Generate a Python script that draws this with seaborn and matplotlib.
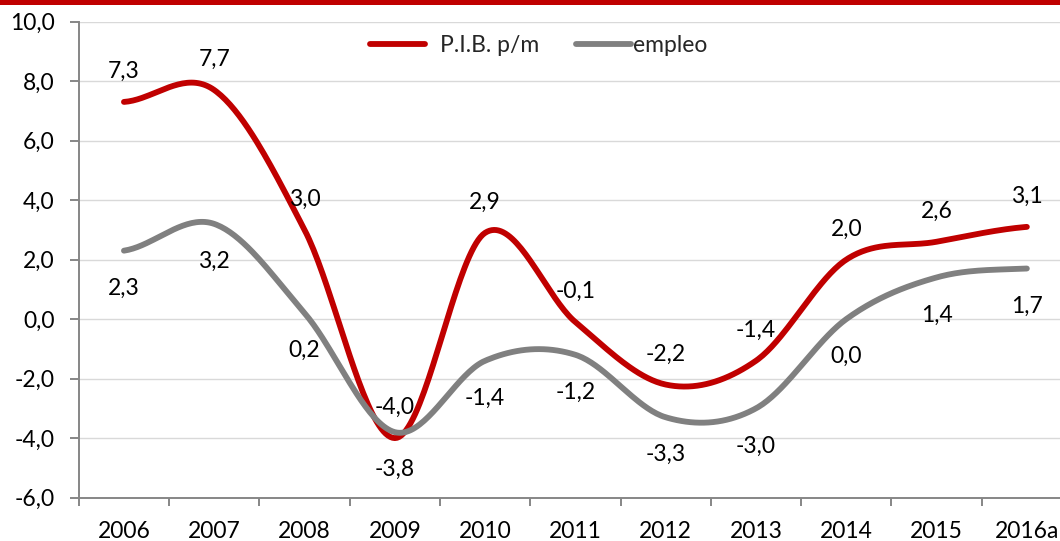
import numpy as np
import pandas as pd
import seaborn as sns
import matplotlib
matplotlib.use("Agg")
import matplotlib.pyplot as plt
from matplotlib.patches import Rectangle
from matplotlib.lines import Line2D

years = ["2006", "2007", "2008", "2009", "2010", "2011", "2012", "2013", "2014", "2015", "2016a"]
pib = [7.3, 7.7, 3.0, -4.0, 2.9, -0.1, -2.2, -1.4, 2.0, 2.6, 3.1]
empleo = [2.3, 3.2, 0.2, -3.8, -1.4, -1.2, -3.3, -3.0, 0.0, 1.4, 1.7]
pib_labels = ["7,3", "7,7", "3,0", "-4,0", "2,9", "-0,1", "-2,2", "-1,4", "2,0", "2,6", "3,1"]
empleo_labels = ["2,3", "3,2", "0,2", "-3,8", "-1,4", "-1,2", "-3,3", "-3,0", "0,0", "1,4", "1,7"]
yticks = [-6, -4, -2, 0, 2, 4, 6, 8, 10]
ytick_labels = ["-6,0", "-4,0", "-2,0", "0,0", "2,0", "4,0", "6,0", "8,0", "10,0"]

RED = "#C00000"
GRAY = "#808080"


def smooth(vals, n=40):
    """Catmull-Rom rendering of the series (like Excel's smoothed line)."""
    v = np.asarray(vals, float)
    p = np.concatenate([[v[0]], v, [v[-1]]])
    xs, ys = [], []
    for i in range(len(v) - 1):
        p0, p1, p2, p3 = p[i], p[i + 1], p[i + 2], p[i + 3]
        m1 = (p2 - p0) / 2.0
        m2 = (p3 - p1) / 2.0
        t = np.linspace(0, 1, n, endpoint=(i == len(v) - 2))
        h00 = 2 * t**3 - 3 * t**2 + 1
        h10 = t**3 - 2 * t**2 + t
        h01 = -2 * t**3 + 3 * t**2
        h11 = t**3 - t**2
        xs.append(i + t)
        ys.append(h00 * p1 + h10 * m1 + h01 * p2 + h11 * m2)
    return np.concatenate(xs), np.concatenate(ys)


sns.set_theme(style="white")
plt.rcParams["font.family"] = ["Lato", "DejaVu Sans"]
FS = 16.5

W, H = 1060, 541
fig = plt.figure(figsize=(W / 100, H / 100), dpi=100)
left, right, top, bottom = 78.8, 1072.0, 21.6, 497.6
ax = fig.add_axes([left / W, 1 - bottom / H, (right - left) / W, (bottom - top) / H])

xr, yr = smooth(pib)
xe, ye = smooth(empleo)
df = pd.concat([
    pd.DataFrame({"x": xr, "y": yr, "serie": "P.I.B. p/m"}),
    pd.DataFrame({"x": xe, "y": ye, "serie": "empleo"}),
])
sns.lineplot(data=df, x="x", y="y", hue="serie", palette={"P.I.B. p/m": RED, "empleo": GRAY},
             linewidth=4.2, sort=False, estimator=None, legend=False, ax=ax,
             solid_capstyle="round", zorder=3)

ax.set_xlim(-0.5, len(years) - 0.5)
ax.set_ylim(-6, 10)
ax.set_xlabel("")
ax.set_ylabel("")

# grid
ax.set_yticks(yticks)
ax.set_yticklabels(ytick_labels, fontsize=FS, color="black")
ax.yaxis.grid(True, color="#D9D9D9", linewidth=1.0)
ax.xaxis.grid(False)
ax.set_axisbelow(True)

# x ticks: marks at boundaries, labels at centres
ax.set_xticks(np.arange(-0.5, len(years), 1.0))
ax.set_xticklabels([])
ax.set_xticks(np.arange(len(years)), minor=True)
ax.set_xticklabels(years, minor=True, fontsize=FS, color="black")
ax.tick_params(axis="x", which="major", direction="out", length=6, width=1.4, color="#868686", bottom=True)
ax.tick_params(axis="x", which="minor", length=0, pad=17, bottom=True)
ax.tick_params(axis="y", direction="out", length=6.5, width=1.4, color="#868686", pad=11, left=True)

for s in ["top", "right"]:
    ax.spines[s].set_visible(False)
for s in ["left", "bottom"]:
    ax.spines[s].set_color("#868686")
    ax.spines[s].set_linewidth(1.4)

# data labels
for i, (v, lab) in enumerate(zip(pib, pib_labels)):
    ax.annotate(lab, (i, v), xytext=(0, 24), textcoords="offset pixels",
                ha="center", va="baseline", fontsize=FS, color="black", zorder=5)
for i, (v, lab) in enumerate(zip(empleo, empleo_labels)):
    ax.annotate(lab, (i, v), xytext=(0, -44), textcoords="offset pixels",
                ha="center", va="baseline", fontsize=FS, color="black", zorder=5)

# legend (two entries placed like the reference)
h1 = Line2D([], [], color=RED, linewidth=4.2, solid_capstyle="round")
h2 = Line2D([], [], color=GRAY, linewidth=4.2, solid_capstyle="round")
leg1 = fig.legend([h1], ["P.I.B. p/m"], loc="center left", bbox_to_anchor=(370 / W, 1 - 46 / H),
                  frameon=False, fontsize=FS, handlelength=2.4, handletextpad=0.65,
                  borderpad=0, borderaxespad=0)
leg2 = fig.legend([h2], ["empleo"], loc="center left", bbox_to_anchor=(576 / W, 1 - 46 / H),
                  frameon=False, fontsize=FS, handlelength=2.4, handletextpad=0.1,
                  borderpad=0, borderaxespad=0)

# red band at top
fig.add_artist(Rectangle((0, 1 - 5 / H), 1, 5 / H, transform=fig.transFigure,
                         color=RED, linewidth=0, zorder=10))

fig.savefig("out.png", dpi=100)
